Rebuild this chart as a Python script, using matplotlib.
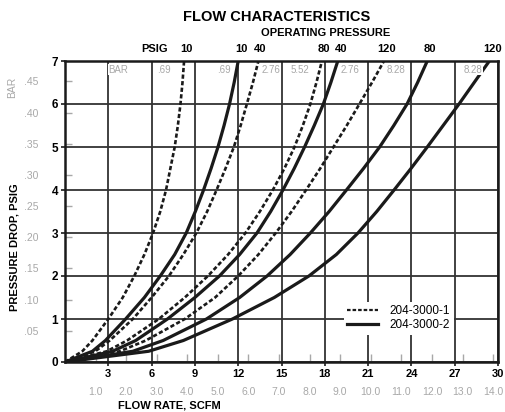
import matplotlib
matplotlib.use("Agg")
import matplotlib.pyplot as plt
from matplotlib.lines import Line2D

plt.rcParams['font.family'] = ['Liberation Sans', 'DejaVu Sans']

dp_levels = [0, 0.25, 0.5, 1, 1.5, 2, 2.5, 3, 3.5, 4, 4.5, 5, 5.5, 6, 6.5, 7]

# 204-3000-1 (dashed) flow rate, SCFM, at each pressure drop level
s1_10 = [0, 1.2, 1.9, 3.0, 4.0, 4.8, 5.5, 6.1, 6.6, 7.0, 7.3, 7.6, 7.82, 8.0, 8.14, 8.25]
s1_40 = [0, 2.1, 3.1, 4.7, 6.0, 7.2, 8.2, 9.1, 9.85, 10.5, 11.12, 11.7, 12.17, 12.6, 13.02, 13.4]
s1_80 = [0, 2.9, 4.3, 6.5, 8.3, 9.9, 11.3, 12.5, 13.5, 14.4, 15.2, 15.9, 16.48, 17.0, 17.42, 17.8]
s1_120 = [0, 3.8, 5.6, 8.3, 10.4, 12.0, 13.4, 14.6, 15.7, 16.7, 17.68, 18.6, 19.52, 20.4, 21.27, 22.1]

# 204-3000-2 (solid)
s2_10 = [0, 1.9, 2.8, 4.2, 5.5, 6.6, 7.6, 8.4, 9.03, 9.6, 10.12, 10.6, 11.02, 11.4, 11.72, 12.0]
s2_40 = [0, 3.3, 4.9, 7.1, 9.0, 10.7, 12.1, 13.3, 14.25, 15.1, 15.88, 16.6, 17.27, 17.9, 18.42, 18.9]
s2_80 = [0, 4.7, 6.8, 9.8, 12.1, 14.0, 15.6, 17.0, 18.3, 19.5, 20.68, 21.8, 22.78, 23.7, 24.43, 25.1]
s2_120 = [0, 5.8, 8.2, 11.6, 14.5, 16.9, 18.8, 20.3, 21.6, 22.8, 23.97, 25.1, 26.2, 27.3, 28.35, 29.4]

op_psig = ['10', '40', '80', '120']
op_bar = ['.69', '2.76', '5.52', '8.28']

x_ticks = [3, 6, 9, 12, 15, 18, 21, 24, 27, 30]
y_ticks = [0, 1, 2, 3, 4, 5, 6, 7]
bar_ticks = [0.05, 0.10, 0.15, 0.20, 0.25, 0.30, 0.35, 0.40, 0.45]
bar_labels = ['.05', '.10', '.15', '.20', '.25', '.30', '.35', '.40', '.45']
ls_ticks = [1.0, 2.0, 3.0, 4.0, 5.0, 6.0, 7.0, 8.0, 9.0, 10.0, 11.0, 12.0, 13.0, 14.0]

PSI_PER_BAR = 14.5038
SCFM_PER_LS = 2.11888

GRAY = '#a8a8a8'
INK = '#1a1a1a'

fig = plt.figure(figsize=(5.06, 4.12), dpi=100)
ax = fig.add_axes([65/506, 1 - 362/412, 433/506, 301/412])

dash = (0, (1.6, 0.9))
series1 = [s1_10, s1_40, s1_80, s1_120]
series2 = [s2_10, s2_40, s2_80, s2_120]
for s in series1:
    ax.plot(s, dp_levels, color=INK, lw=1.9, linestyle=dash, zorder=3)
for s in series2:
    ax.plot(s, dp_levels, color=INK, lw=2.3, zorder=3, solid_joinstyle='round')

ax.set_xlim(0, 30)
ax.set_ylim(0, 7)
ax.set_xticks(x_ticks)
ax.set_yticks(y_ticks)
ax.set_xticklabels([str(v) for v in x_ticks], fontweight='bold', fontsize=8)
ax.set_yticklabels([str(v) for v in y_ticks], fontweight='bold', fontsize=8.5)
ax.tick_params(axis='both', length=3, width=1.2, color=INK, pad=2)
ax.grid(True, color='#333333', lw=1.3, zorder=1)
for sp in ax.spines.values():
    sp.set_linewidth(1.8)
    sp.set_color(INK)

# secondary bar axis (left, gray, ticks inside)
secy = ax.secondary_yaxis('left', functions=(lambda p: p / PSI_PER_BAR, lambda b: b * PSI_PER_BAR))
secy.set_yticks(bar_ticks)
secy.set_yticklabels(bar_labels, color=GRAY, fontsize=7.5)
secy.tick_params(direction='in', length=5, width=1.0, color=GRAY, pad=19)
secy.spines['left'].set_visible(False)

# secondary l/s axis (bottom, gray, ticks inside)
secx = ax.secondary_xaxis('bottom', functions=(lambda q: q / SCFM_PER_LS, lambda l: l * SCFM_PER_LS))
secx.set_xticks(ls_ticks)
secx.set_xticklabels(['%.1f' % v for v in ls_ticks], color=GRAY, fontsize=7.5)
secx.tick_params(direction='in', length=6, width=1.0, color=GRAY, pad=18)
secx.spines['bottom'].set_visible(False)

ax.set_xlabel('FLOW RATE, SCFM', fontweight='bold', fontsize=8)
ax.xaxis.set_label_coords(0.24, -0.128)
ax.set_ylabel('PRESSURE DROP, PSIG', fontweight='bold', fontsize=8)
ax.yaxis.set_label_coords(-0.104, 0.38)

# operating pressure labels above curve tops
tops1 = [s[-1] for s in series1]
tops2 = [s[-1] for s in series2]
label_y = 7.28
for xt, lab in zip(tops1, op_psig):
    ax.text(xt + 0.15, label_y, lab, ha='center', va='center', fontweight='bold', fontsize=8, clip_on=False)
for xt, lab in zip(tops2, op_psig):
    ax.text(xt + 0.2, label_y, lab, ha='center', va='center', fontweight='bold', fontsize=8, clip_on=False)
ax.text(6.2, label_y, 'PSIG', ha='center', va='center', fontweight='bold', fontsize=8, clip_on=False)

# bar labels inside the top strip
bar_side1 = ['left_of', 'right_of', 'left_of', 'right_of']
bar_side2 = ['left_of', 'right_of', 'left_of', 'left_of']
for xt, lab, side in zip(tops1, op_bar, bar_side1):
    if side == 'left_of':
        ax.text(xt - 0.9, 6.8, lab, ha='right', va='center', color=GRAY, fontsize=7, zorder=4,
                bbox=dict(fc='white', ec='none', pad=0.3))
    else:
        ax.text(xt + 0.2, 6.8, lab, ha='left', va='center', color=GRAY, fontsize=7, zorder=4,
                bbox=dict(fc='white', ec='none', pad=0.3))
for xt, lab, side in zip(tops2, op_bar, bar_side2):
    if lab == '5.52':
        continue
    if side == 'left_of':
        ax.text(xt - 0.5, 6.8, lab, ha='right', va='center', color=GRAY, fontsize=7, zorder=4,
                bbox=dict(fc='white', ec='none', pad=0.3))
    else:
        ax.text(xt + 0.2, 6.8, lab, ha='left', va='center', color=GRAY, fontsize=7, zorder=4,
                bbox=dict(fc='white', ec='none', pad=0.3))
ax.text(3.7, 6.8, 'BAR', ha='center', va='center', color=GRAY, fontsize=7, zorder=4,
        bbox=dict(fc='white', ec='none', pad=0.3))

# left gray BAR caption
fig.text(12/506, 1 - 87/412, 'BAR', rotation=90, ha='center', va='center', color=GRAY, fontsize=7.5)

# titles
fig.text(277/506, 1 - 17/412, 'FLOW CHARACTERISTICS', ha='center', va='center', fontweight='bold', fontsize=10.5)
fig.text(326/506, 1 - 33/412, 'OPERATING PRESSURE', ha='center', va='center', fontweight='bold', fontsize=8)

handles = [Line2D([], [], color=INK, lw=1.6, linestyle=dash),
           Line2D([], [], color=INK, lw=2.3)]
leg = ax.legend(handles, ['204-3000-1', '204-3000-2'], loc='center left', bbox_to_anchor=(0.63, 0.145),
                frameon=True, fontsize=8.5, handlelength=2.6, borderpad=0.3, labelspacing=0.15,
                handletextpad=1.0, fancybox=False)
leg.get_frame().set_edgecolor('none')
leg.get_frame().set_facecolor('white')
leg.get_frame().set_alpha(1)
leg.set_zorder(5)

fig.savefig('out.png', dpi=100)
